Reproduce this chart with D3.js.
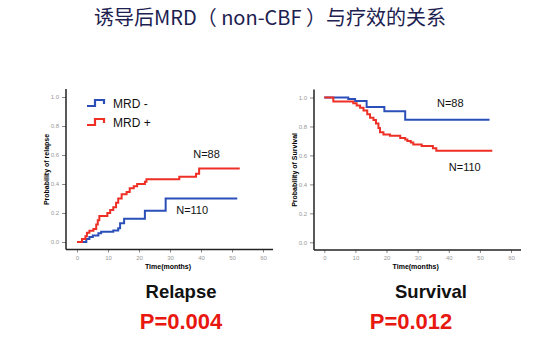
<!DOCTYPE html>
<html>
<head>
<meta charset="utf-8">
<script src="https://cdn.jsdelivr.net/npm/d3@7"></script>
<style>
  body { margin: 0; background: #fff; }
  svg { display: block; }
</style>
</head>
<body>
<svg id="chart" width="553" height="347"></svg>
<script>
// step curves: [month, probability]
const relapseNeg = [[0, 0], [3, 0.02], [4, 0.035], [5.1, 0.045], [6.9, 0.06], [7.8, 0.07], [11.7, 0.08],
  [13.3, 0.095], [13.9, 0.13], [15.2, 0.16], [21.9, 0.215], [28.6, 0.30], [51.7, 0.30]]
const relapsePos = [[0, 0], [1.6, 0.02], [2.7, 0.04], [3.2, 0.064], [4, 0.078], [5.3, 0.09], [6.2, 0.12],
  [6.7, 0.15], [7.2, 0.18], [9.8, 0.2], [10.7, 0.22], [11.7, 0.24], [12.6, 0.27], [13.3, 0.3],
  [14.4, 0.33], [16, 0.345], [17, 0.37], [18.3, 0.385], [19.4, 0.4], [21.9, 0.415], [22.4, 0.433],
  [33, 0.45], [38.4, 0.47], [39.4, 0.507], [52.5, 0.507]]
const survNeg = [[0, 1], [7.7, 0.99], [9.9, 0.975], [13.6, 0.935], [19.3, 0.905], [26, 0.846], [53.1, 0.846]]
const survPos = [[0, 1], [2.9, 0.972], [9.3, 0.96], [10.4, 0.945], [11.5, 0.93], [12.6, 0.91], [13.8, 0.885],
  [14.7, 0.86], [15.8, 0.845], [16.6, 0.82], [17.4, 0.79], [17.9, 0.76], [19, 0.745], [21.1, 0.735],
  [24.4, 0.72], [26, 0.71], [26.7, 0.7], [27.8, 0.69], [28.6, 0.675], [31.3, 0.665], [34.9, 0.65],
  [36, 0.633], [54, 0.633]]
const xTicks = [0, 10, 20, 30, 40, 50, 60]
const yTicks = [0, 0.2, 0.4, 0.6, 0.8, 1.0]
const legendLabels = ['MRD -', 'MRD +']

const blue = '#2a4fb8'
const red = '#ee2f26'
const svg = d3.select('#chart')

svg.append('text')
  .attr('x', 270).attr('y', 25)
  .attr('text-anchor', 'middle')
  .style('font-family', '"Noto Sans CJK SC", sans-serif')
  .style('font-size', '20px')
  .style('fill', '#1c2150')
  .text('诱导后MRD（ non-CBF ）与疗效的关系')

function panel (cfg) {
  const x = d3.scaleLinear().domain([0, 60]).range([cfg.x0, cfg.x1])
  const y = d3.scaleLinear().domain([0, 1]).range([cfg.y0, cfg.y1])
  const g = svg.append('g')

  const yAxis = g.append('g')
    .attr('transform', `translate(${cfg.ax},0)`)
    .call(d3.axisLeft(y).tickValues(yTicks).tickFormat(d3.format('.1f')).tickSize(4).tickSizeOuter(0))
  const xAxis = g.append('g')
    .attr('transform', `translate(0,${cfg.ay})`)
    .call(d3.axisBottom(x).tickValues(xTicks).tickSize(3).tickSizeOuter(0))
  ;[yAxis, xAxis].forEach(a => {
    a.select('.domain').remove()
    a.selectAll('.tick line').style('stroke', '#888')
    a.selectAll('.tick text')
      .style('fill', '#999')
      .style('font-family', '"Liberation Sans", Arial, sans-serif')
      .style('font-size', '6px')
  })

  g.append('line')
    .attr('x1', cfg.ax).attr('x2', cfg.ax)
    .attr('y1', cfg.y1 - 8).attr('y2', cfg.ay)
    .style('stroke', '#222').style('stroke-width', 1.5)
  g.append('line')
    .attr('x1', cfg.ax).attr('x2', cfg.x1 + 10)
    .attr('y1', cfg.ay).attr('y2', cfg.ay)
    .style('stroke', '#222').style('stroke-width', 1.5)

  g.append('text')
    .attr('transform', `translate(${cfg.ax - 17},${(cfg.y0 + cfg.y1) / 2}) rotate(-90)`)
    .attr('text-anchor', 'middle')
    .style('font-family', '"Liberation Sans", Arial, sans-serif')
    .style('font-size', '7px').style('font-weight', 'bold')
    .text(cfg.ylabel)
  g.append('text')
    .attr('x', (cfg.x0 + cfg.x1) / 2 - 2).attr('y', cfg.ay + 19)
    .attr('text-anchor', 'middle')
    .style('font-family', '"Liberation Sans", Arial, sans-serif')
    .style('font-size', '7px').style('font-weight', 'bold')
    .text('Time(months)')

  const line = d3.line()
    .x(d => x(d[0])).y(d => y(d[1]))
    .curve(d3.curveStepAfter)
  cfg.series.forEach(s => {
    g.append('path')
      .datum(s.data)
      .attr('d', line)
      .style('fill', 'none')
      .style('stroke', s.color)
      .style('stroke-width', 2)
  })

  cfg.notes.forEach(n => {
    g.append('text')
      .attr('x', x(n.t)).attr('y', y(n.v))
      .style('font-family', '"Liberation Sans", Arial, sans-serif')
      .style('font-size', '11px')
      .style('fill', '#111')
      .text(n.text)
  })

  g.append('text')
    .attr('x', cfg.cx).attr('y', 298)
    .attr('text-anchor', 'middle')
    .style('font-family', '"Liberation Sans", Arial, sans-serif')
    .style('font-size', '18.5px').style('font-weight', 'bold')
    .style('fill', '#111')
    .text(cfg.name)
  g.append('text')
    .attr('x', cfg.px).attr('y', 329)
    .attr('text-anchor', 'middle')
    .style('font-family', '"Liberation Sans", Arial, sans-serif')
    .style('font-size', '22px').style('font-weight', 'bold')
    .style('fill', '#e8170f')
    .text(cfg.p)
  return { x, y, g }
}

panel({
  x0: 77, x1: 263, y0: 242, y1: 97, ax: 66, ay: 249.5,
  ylabel: 'Probability of relapse', name: 'Relapse', p: 'P=0.004', cx: 181, px: 181,
  series: [{ data: relapseNeg, color: blue }, { data: relapsePos, color: red }],
  notes: [{ text: 'N=88', t: 37.5, v: 0.58 }, { text: 'N=110', t: 32, v: 0.19 }]
})

panel({
  x0: 324.3, x1: 511, y0: 242.3, y1: 97.5, ax: 314, ay: 250,
  ylabel: 'Probability of Survival', name: 'Survival', p: 'P=0.012', cx: 431, px: 411,
  series: [{ data: survNeg, color: blue }, { data: survPos, color: red }],
  notes: [{ text: 'N=88', t: 36.2, v: 0.935 }, { text: 'N=110', t: 40, v: 0.495 }]
})

// legend with little step glyphs
const legendColors = [blue, red]
const lg = svg.append('g')
legendLabels.forEach((lab, i) => {
  const yy = 102 + i * 19
  lg.append('path')
    .attr('d', `M87,${yy + 4}H95V${yy - 2}H104V${yy + 2}`)
    .style('fill', 'none')
    .style('stroke', legendColors[i])
    .style('stroke-width', 2.2)
  lg.append('text')
    .attr('x', 113).attr('y', yy + 6)
    .style('font-family', '"Liberation Sans", Arial, sans-serif')
    .style('font-size', '12px')
    .style('fill', '#111')
    .text(lab)
})
</script>
</body>
</html>
